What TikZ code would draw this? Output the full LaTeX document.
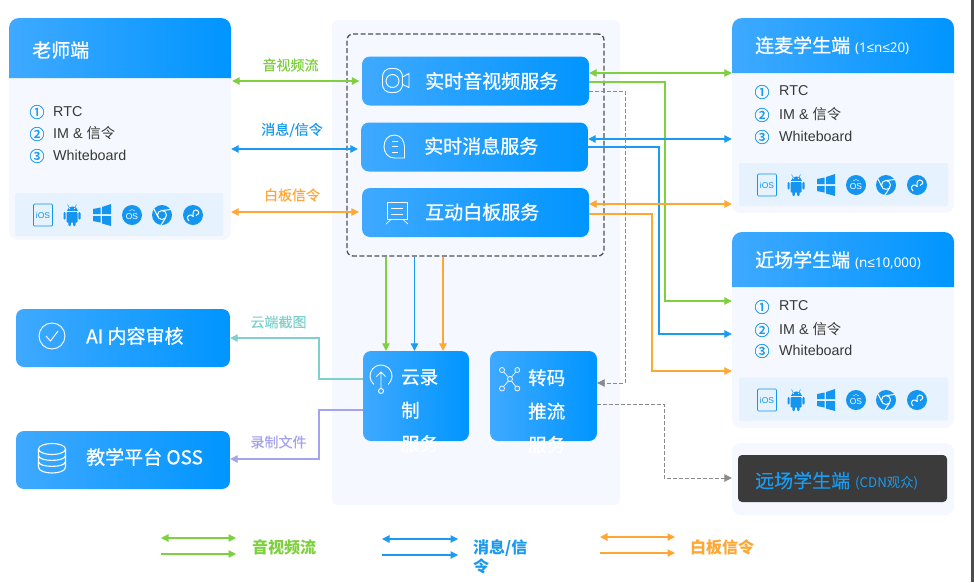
\documentclass[tikz,border=0pt]{standalone}
\usepackage{fontspec}
\setmainfont{Liberation Sans}
\newfontfamily\cjk{Noto Sans CJK SC}
\newfontfamily\cjkm[FakeBold=0.8]{Noto Sans CJK SC}
\newfontfamily\cjkl[FakeBold=0.2]{Noto Sans CJK SC}
\newfontfamily\nsans{Noto Sans}
\newfontfamily\leqfont{Liberation Sans}
\newcommand{\smalleq}{{\leqfont ≤}}
\usetikzlibrary{arrows.meta,calc}
\definecolor{bluea}{HTML}{3FA9FF}
\definecolor{blueb}{HTML}{0095FF}
\definecolor{cardbg}{HTML}{F5F8FE}
\definecolor{stripbg}{HTML}{E6F2FD}
\definecolor{iconblue}{HTML}{1495F0}
\definecolor{grn}{HTML}{7ED03F}
\definecolor{blu}{HTML}{1A9BF0}
\definecolor{org}{HTML}{FFA733}
\definecolor{tealc}{HTML}{7FD0CC}
\definecolor{purp}{HTML}{A3A3EE}
\definecolor{gry}{HTML}{8A8A8A}
\tikzset{
  x=1pt,y=-1pt,
  tip/.style={-{Triangle[length=7.5pt,width=7.5pt]}},
  tips/.style={{Triangle[length=7.5pt,width=7.5pt]}-{Triangle[length=7.5pt,width=7.5pt]}},
  conn/.style={line width=1.15pt},
  dashc/.style={line width=0.9pt,gry,dash pattern=on 3.5pt off 2.5pt},
  card/.style={fill=cardbg,rounded corners=9pt,minimum width=#1,inner sep=0pt},
  bluebox/.style={left color=bluea,right color=blueb,rounded corners=8pt,draw=none,inner sep=0pt},
  txt/.style={inner sep=0pt,anchor=west,font=\fontsize{19}{19}\cjkm,text=white},
  lab/.style={inner sep=0pt,font=\fontsize{14}{14}\cjkl},
  ico/.style={white,line width=0.9pt},
  li/.style={inner sep=0pt,anchor=west,text=black!78,font=\fontsize{14.3}{14.3}\selectfont},
  num/.style={inner sep=0pt,text=blu,font=\fontsize{15}{15}\cjkm},
  lg/.style={inner sep=0pt,anchor=west,font=\fontsize{16}{16}\cjk\bfseries},
  platforms/.pic={
    \draw[iconblue,line width=0.7pt,rounded corners=1pt] (-9.5,-11) rectangle (9.5,11);
    \node[inner sep=0pt,text=iconblue,font=\fontsize{8.5}{8.5}\selectfont] at (0,0) {iOS};
    % android
    \fill[iconblue,rounded corners=1pt] (23.5,-3) rectangle (34.5,7.5);
    \fill[iconblue] (23.5,-4) .. controls (23.5,-10.5) and (34.5,-10.5) .. (34.5,-4) -- cycle;
    \draw[iconblue,line width=0.5pt] (26,-8) -- (24.5,-10.5) (32,-8) -- (33.5,-10.5);
    \fill[iconblue,rounded corners=1pt] (20.5,-3) rectangle (22.7,4.5);
    \fill[iconblue,rounded corners=1pt] (35.3,-3) rectangle (37.5,4.5);
    \fill[iconblue,rounded corners=1pt] (25.3,6) rectangle (27.8,11);
    \fill[iconblue,rounded corners=1pt] (30.2,6) rectangle (32.7,11);
    \fill[white] (26.5,-6.5) circle[radius=0.6] (31.5,-6.5) circle[radius=0.6];
    % windows
    \fill[iconblue] (50,-6) -- (57.5,-7.5) -- (57.5,-1) -- (50,-1) -- cycle;
    \fill[iconblue] (59,-8) -- (68,-11) -- (68,-1) -- (59,-1) -- cycle;
    \fill[iconblue] (50,1) -- (57.5,1) -- (57.5,7.5) -- (50,6) -- cycle;
    \fill[iconblue] (59,1) -- (68,1) -- (68,11) -- (59,8.5) -- cycle;
    % os
    \fill[iconblue] (89,0) circle[radius=10];
    \node[inner sep=0pt,text=white,font=\fontsize{8.5}{8.5}\selectfont] at (89,2) {OS};
    \draw[white,line width=0.4pt] (86,-4) .. controls (88,-6) and (90,-6) .. (92,-4);
    % chrome
    \fill[iconblue] (119,0) circle[radius=10];
    \draw[white,line width=1pt] (119,0) circle[radius=4.5];
    \draw[white,line width=1pt] (119,-4.5) -- (128,-5.5);
    \draw[white,line width=1pt] (115,2) -- (111,-6);
    \draw[white,line width=1pt] (122.8,2.5) -- (118,10);
    % mini program
    \fill[iconblue] (150,0) circle[radius=10];
    \draw[white,line width=1pt] (146,6) .. controls (143,3) and (145,-0.5) .. (148,0) .. controls (150,0.5) and (150.5,3) .. (150,0) .. controls (149.5,-4) and (152,-6) .. (154.5,-4.5) .. controls (157,-3) and (155.5,0.5) .. (153,0.5);
  }
}
\begin{document}
\begin{tikzpicture}
\useasboundingbox (0,0) rectangle (974,582);
\fill[white] (0,0) rectangle (974,582);
\fill[black!70] (970.5,0) rectangle (974,582);
% center panel
\node[fill=cardbg,rounded corners=5pt,minimum width=288pt,minimum height=485pt,inner sep=0pt] (panel) at (476,262.5) {};
\node[draw=black!68,line width=1.3pt,dash pattern=on 5pt off 2.5pt,rounded corners=6pt,minimum width=257pt,minimum height=222pt,inner sep=0pt] (group) at (475.5,145) {};
% teacher card
\node[card=222pt,minimum height=222pt] (teacher) at (120,129) {};
\shade[left color=bluea,right color=blueb] (9,78) [rounded corners=10pt] -- (9,18) -- (231,18) [sharp corners] -- (231,78) -- cycle;
\node[txt] (teacherT) at (32,50) {老师端};
\node[num] (t1) at (37,112) {①}; \node[li] (t1t) at (53,111.5) {RTC};
\node[num] (t2) at (37,134) {②}; \node[li] (t2t) at (53,133) {IM \& {\cjk 信令}};
\node[num] (t3) at (37,156) {③}; \node[li] (t3t) at (53,155) {Whiteboard};
\node[fill=stripbg,rounded corners=2pt,minimum width=208pt,minimum height=43pt,inner sep=0pt] (tstrip) at (119,214.5) {};
\pic at (43,215) {platforms};
% student 1
\node[card=222pt,minimum height=195pt] (stuA) at (843,115.5) {};
\shade[left color=bluea,right color=blueb] (732,73) [rounded corners=10pt] -- (732,18) -- (954,18) [sharp corners] -- (954,73) -- cycle;
\node[txt] (stuAT) at (755,45.5) {连麦学生端\hspace{5pt}{\nsans\fontsize{13.4}{13.4}\selectfont (1\smalleq n\smalleq 20)}};
\node[num] (a1) at (762,92) {①}; \node[li] (a1t) at (779,91) {RTC};
\node[num] (a2) at (762,115) {②}; \node[li] (a2t) at (779,114) {IM \& {\cjk 信令}};
\node[num] (a3) at (762,137) {③}; \node[li] (a3t) at (779,136) {Whiteboard};
\node[fill=stripbg,rounded corners=2pt,minimum width=209pt,minimum height=43pt,inner sep=0pt] (astrip) at (843.5,184.5) {};
\pic at (767,185) {platforms};
% student 2
\node[card=222pt,minimum height=196pt] (stuB) at (843,330) {};
\shade[left color=bluea,right color=blueb] (732,287) [rounded corners=10pt] -- (732,232) -- (954,232) [sharp corners] -- (954,287) -- cycle;
\node[txt] (stuBT) at (755,260) {近场学生端\hspace{5pt}{\nsans\fontsize{13.4}{13.4}\selectfont (n\smalleq 10,000)}};
\node[num] (b1) at (762,307) {①}; \node[li] (b1t) at (779,306) {RTC};
\node[num] (b2) at (762,330) {②}; \node[li] (b2t) at (779,329) {IM \& {\cjk 信令}};
\node[num] (b3) at (762,351) {③}; \node[li] (b3t) at (779,350) {Whiteboard};
\node[fill=stripbg,rounded corners=2pt,minimum width=209pt,minimum height=43pt,inner sep=0pt] (bstrip) at (843.5,399) {};
\pic at (767,400) {platforms};
% far student
\node[card=222pt,minimum height=72pt] (stuC) at (843,479) {};
\node[fill=black!77,rounded corners=4pt,minimum width=209pt,minimum height=47pt,inner sep=0pt] (far) at (842.5,478.5) {};
\node[txt,text=blu,font=\fontsize{19}{19}\cjkl] (farT) at (755,481) {远场学生端\hspace{5pt}{\cjk\fontsize{13.3}{13.3}\selectfont (CDN观众)}};
% left boxes
\node[bluebox,minimum width=214pt,minimum height=58pt] (ai) at (123,338) {};
\node[txt] (aiT) at (86,336) {AI 内容审核};
\draw[ico] (52,336) circle[radius=13];
\draw[ico] (46,336) -- (50.5,341) -- (58,331);
\node[bluebox,minimum width=214pt,minimum height=58pt] (oss) at (123,460) {};
\node[txt] (ossT) at (86,457) {教学平台 OSS};
\begin{scope}[ico,line width=1.1pt]
\draw (52,449) ellipse[x radius=13.5,y radius=5.5];
\draw (38.5,449) -- (38.5,467) .. controls (38.5,475) and (65.5,475) .. (65.5,467) -- (65.5,449);
\draw (38.5,455.5) .. controls (38.5,462) and (65.5,462) .. (65.5,455.5);
\draw (38.5,461.5) .. controls (38.5,468) and (65.5,468) .. (65.5,461.5);
\end{scope}
% services
\node[bluebox,minimum width=227pt,minimum height=49pt] (svcA) at (475.5,81) {};
\node[txt] (svcAT) at (425,81) {实时音视频服务};
\draw[ico,rounded corners=8pt] (382.5,68.5) rectangle (402.5,92.5);
\draw[ico] (392.5,81) circle[radius=6.5];
\draw[ico] (402.5,77) -- (409,73.5) -- (409,87.5) -- (402.5,84.5);
\node[bluebox,minimum width=227pt,minimum height=49pt] (svcB) at (474.5,147) {};
\node[txt] (svcBT) at (424,146) {实时消息服务};
\draw[ico] (404.5,158) -- (394.5,158) .. controls (380.5,158) and (380.5,135) .. (394.5,135) .. controls (401,135) and (404.5,141) .. (404.5,147) -- cycle;
\draw[ico,line width=0.7pt] (392,141.7) -- (398,141.7) (392,146.7) -- (398,146.7) (392,152.3) -- (398,152.3);
\node[bluebox,minimum width=227pt,minimum height=49pt] (svcC) at (475.5,212.5) {};
\node[txt] (svcCT) at (425,212) {互动白板服务};
\draw[ico] (387,202) rectangle (407,219.5);
\draw[ico,line width=0.7pt] (391,208) -- (403,208) (391,214.5) -- (403,214.5);
\draw[ico,line width=0.7pt] (391,219.5) -- (386,224) (403,219.5) -- (408,224);
% record
\node[bluebox,minimum width=106pt,minimum height=90pt] (rec) at (416,396) {};
\node[txt,align=left,font=\fontsize{18.5}{33.5}\cjkm,anchor=north west] (recT) at (401,369) {云录\\制\\服务};
\draw[ico] (373.9,384.4) arc[start angle=130,end angle=410,radius=11];
\draw[ico] (381,388.5) -- (381,372) (376.5,376.5) -- (381,372) -- (385.5,376.5);
\draw[ico] (381,391) circle[radius=2.5];
\node[bluebox,minimum width=107pt,minimum height=90pt] (trans) at (543.5,396) {};
\node[txt,align=left,font=\fontsize{18.5}{33.5}\cjkm,anchor=north west] (transT) at (528,369) {转码\\推流\\服务};
\begin{scope}[ico,line width=0.7pt]
\foreach \a/\b in {502/370,517.3/370,502/388.5,517.3/388.5}{
  \draw (\a,\b) -- (510,379);
  \draw[fill=bluea] (\a,\b) circle[radius=2.5];
}
\draw[fill=bluea] (510,379) circle[radius=2.5];
\end{scope}
% labels
\node[lab,text=grn] (l1) at (290.5,65) {音视频流};
\node[lab,text=blu] (l2) at (292,130) {消息/信令};
\node[lab,text=org] (l3) at (292,195) {白板信令};
\node[lab,text=tealc] (l4) at (278.5,322) {云端截图};
\node[lab,text=purp] (l5) at (278.5,442) {录制文件};
% teacher links
\draw[conn,tips,grn,shorten >=2.5pt,shorten <=1pt] (teacher.east |- 0,81) -- (svcA.west |- 0,81);
\draw[conn,tips,blu,shorten >=3pt] (teacher.east |- 0,149) -- (svcB.west |- 0,149);
\draw[conn,tips,org,shorten >=3pt] (teacher.east |- 0,212) -- (svcC.west |- 0,212);
% student links
\draw[conn,tips,grn] (svcA.east |- 0,73) -- (stuA.west |- 0,73);
\draw[conn,tip,grn] (svcA.east |- 0,82) -- (665,82) -- (665,301) -- (stuB.west |- 0,301);
\draw[conn,tips,blu] (svcB.east |- 0,139) -- (stuA.west |- 0,139);
\draw[conn,tip,blu] (svcB.east |- 0,147) -- (659,147) -- (659,334) -- (stuB.west |- 0,334);
\draw[conn,tips,org] (svcC.east |- 0,204) -- (stuA.west |- 0,204);
\draw[conn,tip,org] (svcC.east |- 0,214) -- (652,214) -- (652,371) -- (stuB.west |- 0,371);
% dashed
\draw[dashc,tip] (svcA.east |- 0,91) -- (625,91) -- (625,383) -- (trans.east |- 0,383);
\draw[dashc,tip] (trans.east |- 0,404) -- (664,404) -- (664,478) -- (stuC.west |- 0,478);
% down
\draw[conn,tip,grn] (group.south -| 386,0) -- (rec.north -| 386,0);
\draw[conn,tip,blu] (group.south -| 414.5,0) -- (rec.north -| 414.5,0);
\draw[conn,tip,org] (group.south -| 443,0) -- (rec.north -| 443,0);
% left
\draw[conn,tip,tealc] (rec.west |- 0,379) -- (319,379) -- (319,338) -- (ai.east);
\draw[conn,tip,purp] (rec.west |- 0,410) -- (319,410) -- (319,459) -- (oss.east |- 0,459);
% legend
\coordinate (g1) at (161,538); \coordinate (g2) at (236,538); \coordinate (g3) at (161,554); \coordinate (g4) at (236,554);
\coordinate (b1l) at (382,539); \coordinate (b2l) at (458,539); \coordinate (b3l) at (382,555); \coordinate (b4l) at (458,555);
\coordinate (o1) at (600,537); \coordinate (o2) at (675,537); \coordinate (o3) at (600,553); \coordinate (o4) at (675,553);
\draw[conn,tips,grn] (g1) -- (g2); \draw[conn,tip,grn] (g3) -- (g4);
\draw[conn,tips,blu] (b1l) -- (b2l); \draw[conn,tip,blu] (b3l) -- (b4l);
\draw[conn,tips,org] (o1) -- (o2); \draw[conn,tip,org] (o3) -- (o4);
\node[lg,text=grn] (lg1) at (252,547) {音视频流};
\node[lg,text=blu,align=left,anchor=north west,font=\fontsize{16}{19}\cjk\bfseries] (lg2) at (473,539) {消息/信\\令};
\node[lg,text=org] (lg3) at (690,547) {白板信令};
\end{tikzpicture}
\end{document}
